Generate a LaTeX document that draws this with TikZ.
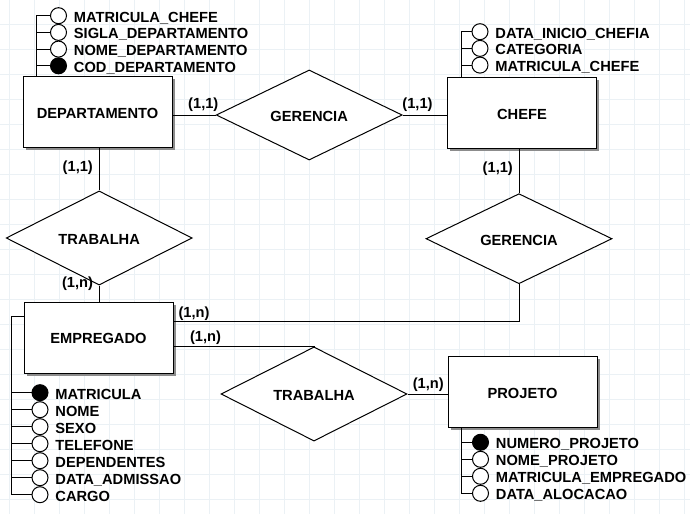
\documentclass[tikz,border=0pt]{standalone}
\usepackage{fontspec}
\setmainfont{Liberation Sans}
\usetikzlibrary{shapes.geometric,shadows,calc}
\definecolor{grade}{HTML}{EBF1F5}
\definecolor{sombra}{HTML}{8C8C8C}

\begin{document}
\begin{tikzpicture}[x=0.75pt,y=-0.75pt,
	texto/.style={font=\bfseries\fontsize{11}{13}\selectfont},
	linha/.style={line width=0.75pt},
	entidade/.style={texto,draw,fill=white,linha,minimum width=111.75pt,minimum height=53.25pt,text height=9.5pt,text depth=0pt,
		drop shadow={shadow xshift=2pt,shadow yshift=-2pt,fill=sombra,opacity=1}},
	relacao/.style={texto,draw,diamond,fill=white,linha,inner sep=0pt,minimum width=139.5pt,minimum height=46.5pt,text height=9.5pt,text depth=0pt},
	atributo/.style={circle,draw,fill=white,linha,inner sep=0pt,minimum size=12pt},
	chave/.style={atributo,fill=black},
	rotulo/.style={texto,inner sep=0pt,xshift=5pt,text height=9.5pt,text depth=0pt},
	card/.style={texto,inner sep=0pt}]
	\useasboundingbox (0,0) rectangle (690,514);
	\foreach \gx in {9.3,34.3,...,690} \draw[grade,linha] (\gx,0)--(\gx,514);
	\foreach \gy in {24.3,49.3,...,514} \draw[grade,linha] (0,\gy)--(690,\gy);
	
	% entidades
	\node[entidade] (dep) at (97.5,112) {DEPARTAMENTO};
	\node[entidade] (chefe) at (522,113) {CHEFE};
	\node[entidade] (emp) at (98.5,337.5) {EMPREGADO};
	\node[entidade] (proj) at (522.5,392) {PROJETO};
	
	% relacionamentos
	\node[relacao] (ger1) at (309.2,115) {GERENCIA};
	\node[relacao] (trab1) at (99.2,238) {TRABALHA};
	\node[relacao] (ger2) at (519,238.7) {GERENCIA};
	\node[relacao] (trab2) at (314,394) {TRABALHA};
	
	\draw[linha] (dep.east |- ger1.west)--(ger1.west);
	\draw[linha] (ger1.east)--(ger1.east -| chefe.west);
	\draw[linha] (trab1.north |- dep.south)--(trab1.north);
	\draw[linha] (trab1.south)--(trab1.south |- emp.north);
	\draw[linha] (ger2.north |- chefe.south)--(ger2.north);
	\draw[linha] (ger2.south) |- ($(emp.north east)+(0,20)$);
	\draw[linha] ($(emp.north east)+(0,45)$) -| (trab2.north);
	\draw[linha] (trab2.east)--(trab2.east -| proj.west);
	
	\node[card] (c1) at (203.3,105) {(1,1)};
	\node[card] (c2) at (417.5,105) {(1,1)};
	\node[card] (c3) at (77.8,168) {(1,1)};
	\node[card] (c4) at (77.5,283.5) {(1,n)};
	\node[card] (c5) at (497.8,169) {(1,1)};
	\node[card] (c6) at (194,314) {(1,n)};
	\node[card] (c7) at (205.5,338) {(1,n)};
	\node[card] (c8) at (428.3,385) {(1,n)};
	
	% atributos
	\node[atributo,label={[rotulo]right:MATRICULA\_CHEFE}] (dep1) at (58.5,15.7) {};
	\node[atributo,label={[rotulo]right:SIGLA\_DEPARTAMENTO}] (dep2) at (58.5,32.4) {};
	\node[atributo,label={[rotulo]right:NOME\_DEPARTAMENTO}] (dep3) at (58.5,49.1) {};
	\node[chave,label={[rotulo]right:COD\_DEPARTAMENTO}] (dep4) at (58.5,65.8) {};
	\coordinate (hastedep) at (36,0);
	\draw[linha] (hastedep |- dep.north) |- (dep1);
	\foreach \a in {dep2,dep3,dep4} \draw[linha] (\a -| hastedep)--(\a);
	
	\node[atributo,label={[rotulo]right:DATA\_INICIO\_CHEFIA}] (chefe1) at (480,31.7) {};
	\node[atributo,label={[rotulo]right:CATEGORIA}] (chefe2) at (480,48.4) {};
	\node[atributo,label={[rotulo]right:MATRICULA\_CHEFE}] (chefe3) at (480,65.1) {};
	\coordinate (hastechefe) at (461,0);
	\draw[linha] (hastechefe |- chefe.north) |- (chefe1);
	\foreach \a in {chefe2,chefe3} \draw[linha] (\a -| hastechefe)--(\a);
	
	\node[chave,label={[rotulo]right:MATRICULA}] (emp1) at (40,392.7) {};
	\node[atributo,label={[rotulo]right:NOME}] (emp2) at (40,409.7) {};
	\node[atributo,label={[rotulo]right:SEXO}] (emp3) at (40,426.7) {};
	\node[atributo,label={[rotulo]right:TELEFONE}] (emp4) at (40,443.7) {};
	\node[atributo,label={[rotulo]right:DEPENDENTES}] (emp5) at (40,460.7) {};
	\node[atributo,label={[rotulo]right:DATA\_ADMISSAO}] (emp6) at (40,477.7) {};
	\node[atributo,label={[rotulo]right:CARGO}] (emp7) at (40,494.7) {};
	\coordinate (hasteemp) at (11.7,316);
	\draw[linha] (hasteemp -| emp.west)--(hasteemp) |- (emp7);
	\foreach \a in {emp1,emp2,emp3,emp4,emp5,emp6} \draw[linha] (\a -| hasteemp)--(\a);
	
	\node[chave,label={[rotulo]right:NUMERO\_PROJETO}] (proj1) at (480.5,442.3) {};
	\node[atributo,label={[rotulo]right:NOME\_PROJETO}] (proj2) at (480.5,459.3) {};
	\node[atributo,label={[rotulo]right:MATRICULA\_EMPREGADO}] (proj3) at (480.5,476.3) {};
	\node[atributo,label={[rotulo]right:DATA\_ALOCACAO}] (proj4) at (480.5,493.3) {};
	\coordinate (hasteproj) at (461,0);
	\draw[linha] (hasteproj |- proj.south) |- (proj4);
	\foreach \a in {proj1,proj2,proj3} \draw[linha] (\a -| hasteproj)--(\a);
\end{tikzpicture}
\end{document}
